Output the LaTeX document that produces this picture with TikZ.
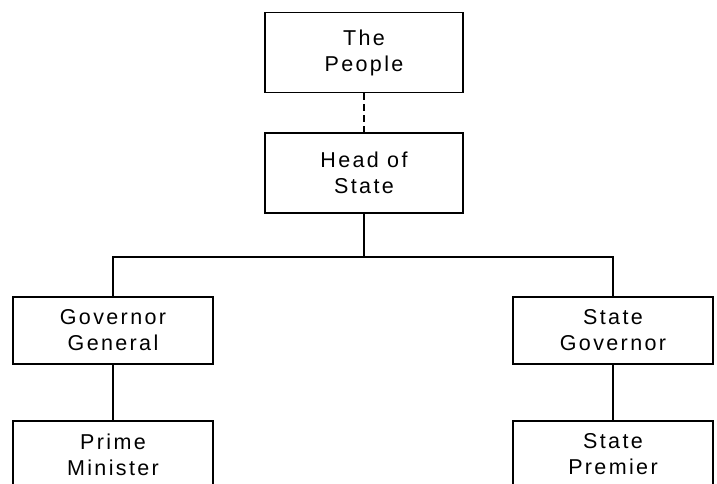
\documentclass[tikz,border=0pt]{standalone}
\usepackage{fontspec}
\setmainfont{Liberation Sans}
\newfontfamily\boxfont[LetterSpace=11]{Liberation Sans}
\begin{document}
\begin{tikzpicture}[x=1pt,y=-1pt,
  office/.style={draw=black, line width=1.3pt, fill=white, inner sep=0pt,
    align=center, font=\boxfont\fontsize{21.5}{26}\selectfont},
  tallbox/.style={office, minimum width=198pt, minimum height=80pt},
  lowbox/.style={office, minimum width=200pt, minimum height=67pt},
  link/.style={draw=black, line width=1.8pt},
  dashlink/.style={draw=black, line width=2.8pt, dash pattern=on 6.5pt off 4.5pt}]
  \clip (0,0) rectangle (717,484);
  \fill[white] (0,0) rectangle (717,484);

  % top of the hierarchy
  \node[tallbox] (people) at (364,52.5) {The\\People};
  \node[tallbox] (head)   at (364,173)  {Head of\\State};

  % federal and state branches
  \node[lowbox] (gg) at (113,330.5) {Governor\\General};
  \node[lowbox] (sg) at (613,330.5) {State\\Governor};
  \node[lowbox] (pm) at (113,454.5) {Prime\\Minister};
  \node[lowbox] (sp) at (613,454.5) {State\\Premier};

  \coordinate (bus) at (364,257);

  % connectors
  \draw[dashlink] (people.south) -- (head.north);
  \draw[link] (head.south) -- (bus);
  \draw[link] (gg.north) |- (bus) -| (sg.north);
  \draw[link] (gg.south) -- (pm.north);
  \draw[link] (sg.south) -- (sp.north);
\end{tikzpicture}
\end{document}
